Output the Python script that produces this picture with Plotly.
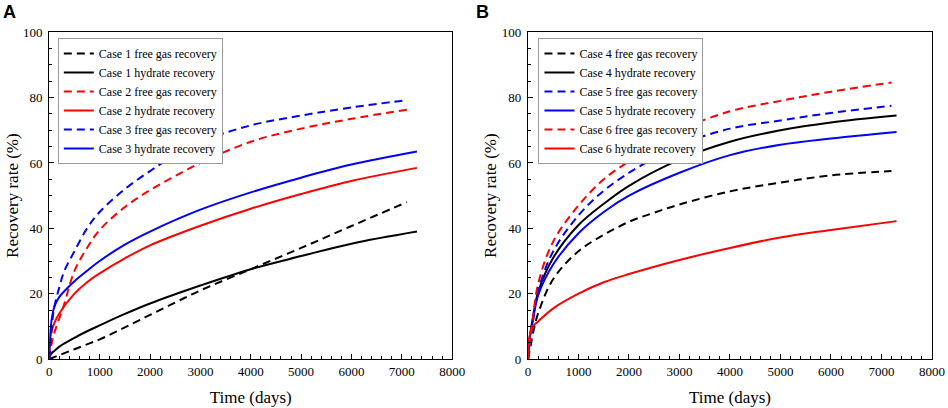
import plotly.graph_objects as go
from plotly.subplots import make_subplots

# ---- data ----
# Panel A (cases 1-3)
t_gas_a = [0, 50, 100, 200, 300, 500, 750, 1000, 1500, 2000, 2500, 3000, 4000, 5000, 6000, 7100]
t_hyd_a = [0, 30, 100, 200, 500, 750, 1000, 1500, 2000, 3000, 4000, 5000, 6000, 7300]
case1_gas = [0, 0.3, 0.6, 1.2, 1.8, 3, 4.5, 6, 9.7, 13.5, 17.3, 21, 27.5, 34, 40.7, 48]
case1_hyd = [0, 1.5, 2.5, 3.8, 6.5, 8.5, 10.3, 13.8, 17, 22.5, 27.5, 31.5, 35.3, 39]
case2_gas = [0, 5, 8, 12.5, 17, 27, 34, 39.5, 46.5, 51.7, 56, 60, 66.5, 70.5, 73.5, 76.3]
case2_hyd = [0, 7.5, 11, 14, 20, 23.5, 26.2, 30.8, 34.8, 40.8, 46, 50.5, 54.5, 58.5]
case3_gas = [0, 10, 16, 22, 27, 33, 40, 45, 52, 57.5, 62.5, 66.5, 71.5, 74.5, 77, 79.2]
case3_hyd = [0, 10, 16, 19, 23.8, 27, 30, 35, 39, 45.7, 51, 55.5, 59.5, 63.5]

# Panel B (cases 4-6)
t_gas_b = [0, 50, 100, 200, 500, 1000, 1500, 2000, 2500, 3000, 4000, 5000, 6000, 7200]
t_hyd_b = [0, 30, 100, 200, 500, 1000, 1500, 2000, 3000, 4000, 5000, 6000, 7300]
case4_gas = [0, 4, 8, 14, 24.5, 33, 38, 42, 44.8, 47.3, 51.3, 54, 56.2, 57.5]
case4_hyd = [0, 6, 13, 20.5, 31, 41, 47.5, 53, 61, 66.5, 70, 72.4, 74.5]
case5_gas = [0, 6, 12, 21, 33, 44, 51.5, 57, 61.5, 65.5, 70.5, 73, 75.3, 77.5]
case5_hyd = [0, 6, 12, 19.5, 29, 38.5, 45, 50, 57, 62.4, 65.6, 67.5, 69.5]
case6_gas = [0, 7, 13, 23, 36, 47, 55, 60.5, 65.5, 70, 75.8, 79, 81.8, 84.6]
case6_hyd = [0, 7, 10, 11.5, 15.5, 20, 23.5, 26, 30.3, 34, 37.2, 39.5, 42.2]

BLACK, RED, BLUE = "#000000", "#ff0000", "#0000ff"
SERIF = "Liberation Serif"

fig = make_subplots(rows=1, cols=2)

panel_a = [
    ("Case 1 free gas recovery", t_gas_a, case1_gas, BLACK, "dash"),
    ("Case 1 hydrate recovery", t_hyd_a, case1_hyd, BLACK, "solid"),
    ("Case 2 free gas recovery", t_gas_a, case2_gas, RED, "dash"),
    ("Case 2 hydrate recovery", t_hyd_a, case2_hyd, RED, "solid"),
    ("Case 3 free gas recovery", t_gas_a, case3_gas, BLUE, "dash"),
    ("Case 3 hydrate recovery", t_hyd_a, case3_hyd, BLUE, "solid"),
]
panel_b = [
    ("Case 4 free gas recovery", t_gas_b, case4_gas, BLACK, "dash"),
    ("Case 4 hydrate recovery", t_hyd_b, case4_hyd, BLACK, "solid"),
    ("Case 5 free gas recovery", t_gas_b, case5_gas, BLUE, "dash"),
    ("Case 5 hydrate recovery", t_hyd_b, case5_hyd, BLUE, "solid"),
    ("Case 6 free gas recovery", t_gas_b, case6_gas, RED, "dash"),
    ("Case 6 hydrate recovery", t_hyd_b, case6_hyd, RED, "solid"),
]

for col, (series, legend) in enumerate([(panel_a, "legend"), (panel_b, "legend2")], start=1):
    for name, t, y, color, dash in series:
        fig.add_trace(
            go.Scatter(
                x=t, y=y, name=name, mode="lines",
                line=dict(color=color, width=2, dash="8px,5px" if dash == "dash" else "solid",
                          shape="spline", smoothing=1.0),
                legend=legend,
            ),
            row=1, col=col,
        )

axis_style = dict(
    showline=True, linecolor="black", linewidth=1.2, mirror=True,
    ticks="inside", ticklen=5, tickcolor="black",
    minor=dict(ticks="inside", ticklen=3, tickcolor="black"),
    showgrid=False, zeroline=False, automargin=False,
    tickfont=dict(family=SERIF, size=13, color="black"),
)

fig.update_xaxes(range=[0, 8000], dtick=1000, **axis_style)
fig.update_xaxes(title=dict(text="Time (days)", font=dict(family=SERIF, size=17, color="black"), standoff=13))
fig.update_yaxes(range=[0, 100], dtick=20, ticklabelstandoff=3, **axis_style)
fig.update_yaxes(title=dict(text="Recovery rate (%)", font=dict(family=SERIF, size=17, color="black"), standoff=0))

fig.update_layout(
    xaxis=dict(domain=[0.052, 0.477]),
    xaxis2=dict(domain=[0.557, 0.983]),
    yaxis=dict(domain=[0.12, 0.921]),
    yaxis2=dict(domain=[0.12, 0.921]),
)

legend_style = dict(
    bgcolor="white", bordercolor="#999999", borderwidth=1,
    font=dict(family=SERIF, size=12, color="black"),
    xanchor="left", yanchor="top", tracegroupgap=0,
)
fig.update_layout(
    legend=dict(x=0.061, y=0.907, **legend_style),
    legend2=dict(x=0.568, y=0.907, **legend_style),
)

fig.add_annotation(text="<b>A</b>", x=0.001, y=1.0, xref="paper", yref="paper",
                   xanchor="left", yanchor="top", showarrow=False,
                   font=dict(family="Liberation Sans", size=18, color="black"))
fig.add_annotation(text="<b>B</b>", x=0.5, y=1.0, xref="paper", yref="paper",
                   xanchor="left", yanchor="top", showarrow=False,
                   font=dict(family="Liberation Sans", size=18, color="black"))

fig.update_layout(
    width=948, height=408,
    margin=dict(l=0, r=0, t=0, b=0),
    plot_bgcolor="white", paper_bgcolor="white",
    showlegend=True,
)

# drop the browser's default body margin so the figure fills the window
fig.write_html("out.html", config={"displayModeBar": False},
               post_script="document.body.style.margin='0';")
